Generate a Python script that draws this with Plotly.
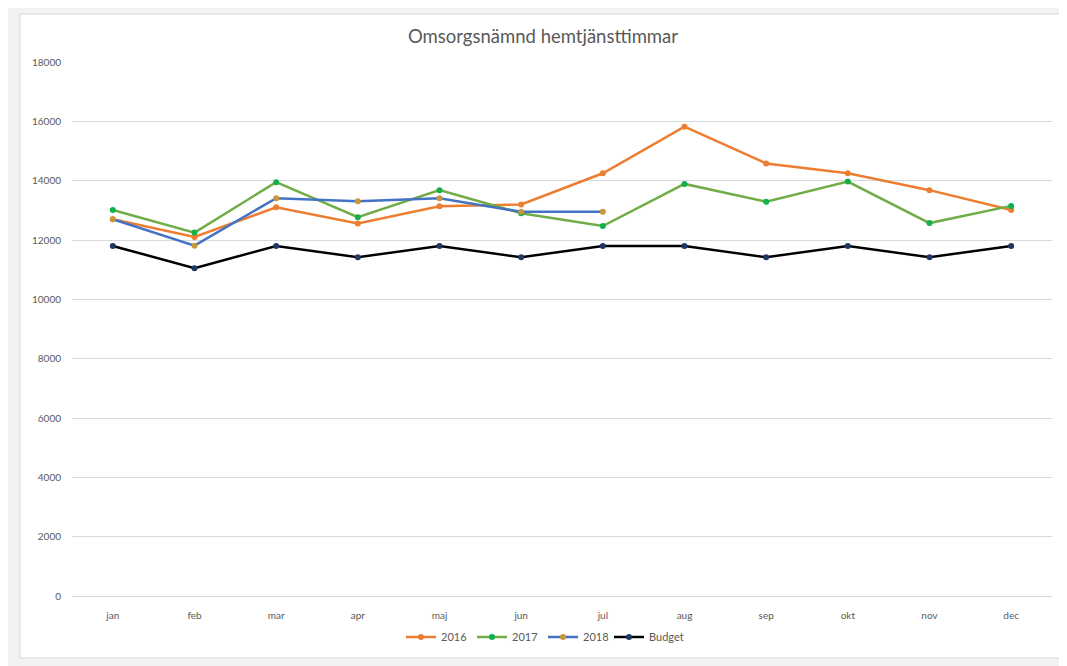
import plotly.graph_objects as go

months = ["jan", "feb", "mar", "apr", "maj", "jun", "jul", "aug", "sep", "okt", "nov", "dec"]
y2016 = [12700, 12100, 13100, 12560, 13140, 13200, 14250, 15820, 14580, 14250, 13680, 13010]
y2017 = [13010, 12250, 13950, 12770, 13680, 12900, 12470, 13890, 13290, 13970, 12570, 13150]
y2018 = [12700, 11810, 13410, 13310, 13410, 12950, 12950]
budget = [11800, 11050, 11800, 11420, 11800, 11420, 11800, 11800, 11420, 11800, 11420, 11800]

series = [
    ("2016", months, y2016, "#ED7D31", "#ED7D31", "legend"),
    ("2017", months, y2017, "#70AD47", "#12B04C", "legend"),
    ("2018", months[:len(y2018)], y2018, "#4472C4", "#C9963A", "legend"),
    ("Budget", months, budget, "#000000", "#1F3864", "legend2"),
]

fig = go.Figure()
for name, xs, ys, lc, mc, lg in series:
    fig.add_trace(go.Scatter(
        x=xs, y=ys, name=name, mode="lines+markers",
        line=dict(color=lc, width=2.5),
        marker=dict(color=mc, size=6),
        legend=lg,
    ))

# page offset (body margin) of 8px is accounted for: figure coords = screenshot - 8
W, H = 1067, 666
ml, mr, mt, mb = 64, 23, 54, 78
pw, ph = W - ml - mr, H - mt - mb

def px_x(p):
    return (p - ml) / pw

def px_y(p):
    return (H - mb - p) / ph

fig.add_shape(type="rect", xref="paper", yref="paper",
              x0=px_x(12), x1=px_x(1080), y0=px_y(650), y1=px_y(6),
              fillcolor="white", line=dict(color="#d9d9d9", width=1), layer="below")

legend_common = dict(orientation="h", xanchor="left", y=px_y(629), yanchor="middle",
                     font=dict(size=11, color="#595959"), bgcolor="rgba(0,0,0,0)",
                     itemwidth=30, tracegroupgap=0)

fig.update_layout(
    width=W, height=H,
    margin=dict(l=ml, r=mr, t=mt, b=mb),
    paper_bgcolor="#f2f2f2",
    plot_bgcolor="rgba(0,0,0,0)",
    font=dict(family="Lato, Open Sans, sans-serif", color="#595959", size=10),
    title=dict(text="Omsorgsnämnd hemtjänsttimmar", x=535 / W, xref="container", xanchor="center",
               y=1 - 29 / H, yanchor="middle",
               font=dict(size=18.5, color="#595959")),
    showlegend=True,
    legend=dict(x=px_x(393), entrywidth=26, entrywidthmode="pixels", **legend_common),
    legend2=dict(x=px_x(601), **legend_common),
    xaxis=dict(type="category", showgrid=False, showline=True, linecolor="#d9d9d9",
               ticks="", ticklabelstandoff=10, range=[-0.5, 11.5], fixedrange=True),
    yaxis=dict(range=[0, 18000], dtick=2000, showgrid=True, gridcolor="#d9d9d9",
               zeroline=True, zerolinecolor="#d9d9d9", tickformat="d",
               ticks="", ticklabelstandoff=10, showline=False),
)

fig.write_html("out.html")
